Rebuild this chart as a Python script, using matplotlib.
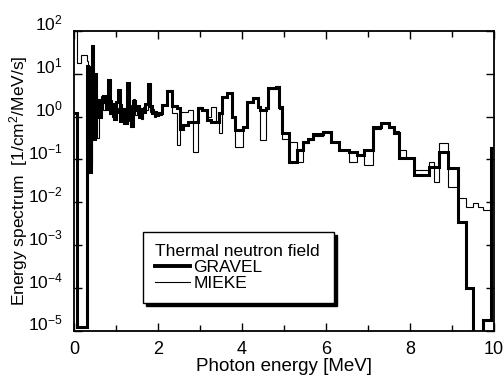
import matplotlib
matplotlib.use('Agg')
import matplotlib.pyplot as plt
from matplotlib.lines import Line2D
from matplotlib.ticker import MultipleLocator, LogLocator, NullLocator, LogFormatterMathtext

plt.rcParams['font.family'] = ['Liberation Sans', 'DejaVu Sans']
plt.rcParams['mathtext.default'] = 'regular'

# bin edges [MeV] and unfolded spectra (1/cm2/MeV/s)
edges = [0.00, 0.06, 0.17, 0.31, 0.34, 0.37, 0.40, 0.43, 0.46, 0.49, 0.52,
         0.55, 0.60, 0.65, 0.70, 0.75, 0.80, 0.85, 0.90, 0.95, 1.00, 1.05,
         1.10, 1.15, 1.20, 1.25, 1.30, 1.35, 1.40, 1.45, 1.50, 1.55, 1.60,
         1.65, 1.70, 1.75, 1.80, 1.85, 1.90, 1.95,
         2.00, 2.10, 2.22, 2.34, 2.46, 2.53,
         2.60, 2.72, 2.84, 2.94, 3.05, 3.17, 3.25, 3.37, 3.44, 3.53, 3.65,
         3.77, 3.84, 4.03, 4.13, 4.25, 4.37, 4.44, 4.56, 4.63, 4.80, 4.89,
         4.96, 5.11, 5.30, 5.45, 5.58, 5.70, 5.92, 6.11, 6.30, 6.54, 6.75,
         6.90, 7.11, 7.30, 7.50, 7.61, 7.73, 7.90, 8.09, 8.31, 8.45, 8.57,
         8.69, 8.90, 9.14, 9.33, 9.50, 9.62, 9.74, 9.93, 10.00]

gravel = [1.2, 1.2e-5, 1.2e-5, 15, 8, 0.05, 3, 45, 0.3, 10, 1.5,
          2.5, 1.0, 2.2, 3.0, 1.5, 7.2, 1.2, 2.0, 0.9, 2.2,
          4.2, 0.8, 1.5, 0.7, 6.0, 1.3, 0.6, 2.3, 1.4, 1.8,
          1.0, 1.5, 1.3, 2.0, 5.8, 1.8, 1.2, 1.3, 1.1,
          1.2, 1.9, 4.0, 1.8, 1.6, 0.5,
          0.65, 0.75, 0.75, 1.6, 1.4, 0.84, 0.75, 0.75, 1.2, 2.9, 3.6,
          1.0, 0.49, 0.58, 2.2, 2.7, 1.7, 1.4, 1.6, 4.7, 4.9, 1.7,
          0.42, 0.088, 0.17, 0.26, 0.3, 0.4, 0.44, 0.26, 0.17, 0.15, 0.13,
          0.17, 0.58, 0.7, 0.58, 0.42, 0.11, 0.11, 0.044, 0.044, 0.067, 0.067,
          0.15, 0.064, 0.0035, 1.0e-4, 1e-6, 1e-6, 1.8e-5, 0.18]

mieke = [300, 18, 28, 20, 0.1, 15, 0.08, 35, 2, 0.4, 3,
         0.32, 1.8, 3.0, 1.4, 2.5, 2.0, 2.4, 1.0, 1.9, 1.2,
         1.6, 2.0, 0.9, 1.6, 2.6, 0.8, 1.9, 2.6, 1.1, 1.5,
         1.6, 0.9, 1.7, 1.4, 3.5, 1.3, 1.5, 1.0, 1.3,
         1.1, 1.9, 4.2, 1.2, 0.22, 1.3,
         1.3, 1.4, 0.15, 1.7, 1.4, 1.0, 1.7, 0.75, 0.42, 2.9, 3.6,
         1.0, 0.2, 0.58, 2.2, 2.7, 1.7, 0.29, 1.6, 4.5, 5.2, 1.5,
         0.3, 0.26, 0.088, 0.24, 0.28, 0.36, 0.44, 0.26, 0.17, 0.085, 0.13,
         0.075, 0.5, 0.7, 0.55, 0.45, 0.17, 0.11, 0.057, 0.057, 0.088, 0.03,
         0.24, 0.023, 0.0127, 0.0078, 0.0097, 0.0078, 0.0067, 0.18]

fig = plt.figure(figsize=(5.04, 3.76), dpi=100)
ax = fig.add_axes([0.147, 0.12, 0.833, 0.798])

ax.stairs(mieke, edges, baseline=None, color='black', lw=0.8)
ax.stairs(gravel, edges, baseline=None, color='black', lw=2.2)

ax.set_yscale('log')
ax.set_xlim(0, 10)
ax.set_ylim(1e-5, 1e2)

ax.xaxis.set_major_locator(MultipleLocator(2))
ax.xaxis.set_minor_locator(MultipleLocator(1))
ax.yaxis.set_major_locator(LogLocator(base=10, numticks=20))
ax.yaxis.set_minor_locator(NullLocator())
ax.yaxis.set_major_formatter(LogFormatterMathtext())

ax.tick_params(which='both', direction='in', top=True, right=True,
               labelsize=13, width=1.0)
ax.tick_params(which='major', length=6)
ax.tick_params(which='minor', length=4)
ax.tick_params(axis='x', pad=7)
ax.tick_params(axis='y', pad=8, labelsize=12.5)
for lbl in ax.get_yticklabels():
    lbl.set_verticalalignment('baseline')

for sp in ax.spines.values():
    sp.set_linewidth(1.3)

ax.set_xlabel('Photon energy [MeV]', fontsize=13.5, labelpad=0)
ax.set_ylabel('Energy spectrum  [1/cm$^2$/MeV/s]', fontsize=12.5)
ax.yaxis.set_label_coords(-0.106, 0.5)

handles = [Line2D([], [], color='black', lw=2.8),
           Line2D([], [], color='black', lw=0.8)]
leg = ax.legend(handles, ['GRAVEL', 'MIEKE'], title='Thermal neutron field',
                loc='lower left', bbox_to_anchor=(0.164, 0.093, 0.455, 0.25),
                mode='expand', borderaxespad=0, fontsize=12.5,
                title_fontsize=12.5, alignment='left', fancybox=False,
                framealpha=1, edgecolor='black', handlelength=2.0,
                handletextpad=0.2, labelspacing=0.05, borderpad=0.7,
                shadow={'color': 'black', 'alpha': 1, 'ox': 2.5, 'oy': -2.5})
leg.get_frame().set_linewidth(1.0)

fig.savefig('out.png', dpi=100)
